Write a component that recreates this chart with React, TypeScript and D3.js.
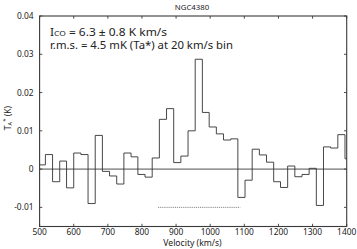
import { scaleLinear, line as d3_line, curveStepAfter } from "d3";

// bin start velocities (km/s); last bin ends at the frame
const binStarts = [
  500, 517, 538, 559, 579, 600, 621, 642, 663, 684, 705, 726, 747, 768, 788,
  809, 830, 851, 872, 893, 914, 935, 956, 977, 997, 1018, 1039, 1060, 1081,
  1102, 1123, 1144, 1165, 1186, 1206, 1227, 1248, 1269, 1290, 1311, 1332,
  1353, 1374, 1395,
];
const binEnd = 1400;

// antenna temperature per bin (K)
const tempValues = [
  0.0011, 0.0038, -0.0033, 0.0021, -0.0049, 0.0042, 0.0038, -0.009, 0.0088,
  -0.0006, -0.0018, -0.0039, 0.0042, 0.0032, -0.0014, -0.0021, 0.0029, 0.013,
  0.0158, 0.0017, 0.0034, 0.01, 0.0287, 0.0148, 0.011, 0.0092, 0.0076, 0.0079,
  -0.0074, -0.0029, 0.0052, 0.0037, 0.0018, -0.0033, -0.0048, 0.0008, -0.002,
  -0.0014, 0.0002, -0.0095, 0.0058, 0.0055, 0.009, 0.0027,
];

// line-width range marked under the spectrum
const rangeStart = 847;
const rangeEnd = 1088;
const rangeLevel = -0.01;

const xTicks = [500, 600, 700, 800, 900, 1000, 1100, 1200, 1300, 1400];
const yTicks = [-0.01, 0, 0.01, 0.02, 0.03, 0.04];
const yTickLabels = ["-0.01", "0", "0.01", "0.02", "0.03", "0.04"];

const title = "NGC4380";
const fluxValue = " = 6.3 ± 0.8 K km/s";
const rmsText = "r.m.s. = 4.5 mK (Ta*) at 20 km/s bin";

const W = 357;
const H = 249;
const font = "'Noto Sans', 'Open Sans', sans-serif";

export default function App() {
  const x = scaleLinear().domain([500, 1400]).range([39.6, 346.7]);
  const y = scaleLinear().domain([-0.015, 0.04]).range([226.5, 16]);

  const pts = binStarts.map((v, i) => ({ v, t: tempValues[i] }));
  pts.push({ v: binEnd, t: tempValues[tempValues.length - 1] });

  const step = d3_line<{ v: number; t: number }>()
    .x((d) => x(d.v))
    .y((d) => y(d.t))
    .curve(curveStepAfter);

  const [x0, x1] = x.range();
  const [yb, yt] = y.range();
  const axisColor = "#3a3a3a";

  return (
    <svg
      width={W}
      height={H}
      style={{ position: "absolute", left: 0, top: 0, background: "#fff" }}
      fontFamily={font}
    >
      {/* title */}
      <text x={192} y={9.5} fontSize={7.8} textAnchor="middle" fill="#222">
        {title}
      </text>

      {/* zero line */}
      <line x1={x0} x2={x1} y1={y(0)} y2={y(0)} stroke="#222" strokeWidth={0.8} />

      {/* range marker */}
      <line
        x1={x(rangeStart)}
        x2={x(rangeEnd)}
        y1={y(rangeLevel)}
        y2={y(rangeLevel)}
        stroke="#555"
        strokeWidth={0.7}
        strokeDasharray="1.2,0.9"
      />

      {/* spectrum */}
      <path d={step(pts) ?? ""} fill="none" stroke="#333" strokeWidth={0.9} />

      {/* frame */}
      <rect
        x={x0}
        y={yt}
        width={x1 - x0}
        height={yb - yt}
        fill="none"
        stroke={axisColor}
        strokeWidth={1.1}
      />

      {/* x ticks */}
      {xTicks.map((t) => (
        <g key={t}>
          <line x1={x(t)} x2={x(t)} y1={yb} y2={yb - 2.7} stroke={axisColor} strokeWidth={0.9} />
          <line x1={x(t)} x2={x(t)} y1={yt} y2={yt + 2.7} stroke={axisColor} strokeWidth={0.9} />
          <text x={x(t)} y={234.5} fontSize={8.4} textAnchor="middle" fill="#222">
            {t}
          </text>
        </g>
      ))}

      {/* y ticks */}
      {yTicks.map((t, i) => (
        <g key={t}>
          <line x1={x0} x2={x0 + 2.7} y1={y(t)} y2={y(t)} stroke={axisColor} strokeWidth={0.9} />
          <line x1={x1} x2={x1 - 2.7} y1={y(t)} y2={y(t)} stroke={axisColor} strokeWidth={0.9} />
          <text x={33.5} y={y(t) + 3} fontSize={8.4} textAnchor="end" fill="#222">
            {yTickLabels[i]}
          </text>
        </g>
      ))}

      {/* axis titles */}
      <text x={192.5} y={245.5} fontSize={8.6} textAnchor="middle" fill="#222">
        Velocity (km/s)
      </text>
      <text
        transform="translate(10.5,118) rotate(-90)"
        fontSize={8.6}
        textAnchor="middle"
        fill="#222"
      >
        T<tspan fontSize={5.5} dy={1.5}>A</tspan>
        <tspan fontSize={6} dy={-5}>*</tspan>
        <tspan dy={3.5}> (K)</tspan>
      </text>

      {/* annotations */}
      <text x={50} y={35.5} fontSize={10.2} fill="#222" textLength={117} lengthAdjust="spacingAndGlyphs">
        {"I"}
        <tspan fontSize={7.2}>CO</tspan>
        {fluxValue}
      </text>
      <text x={50} y={49} fontSize={10.2} fill="#222" textLength={183} lengthAdjust="spacingAndGlyphs">
        {rmsText}
      </text>
    </svg>
  );
}
